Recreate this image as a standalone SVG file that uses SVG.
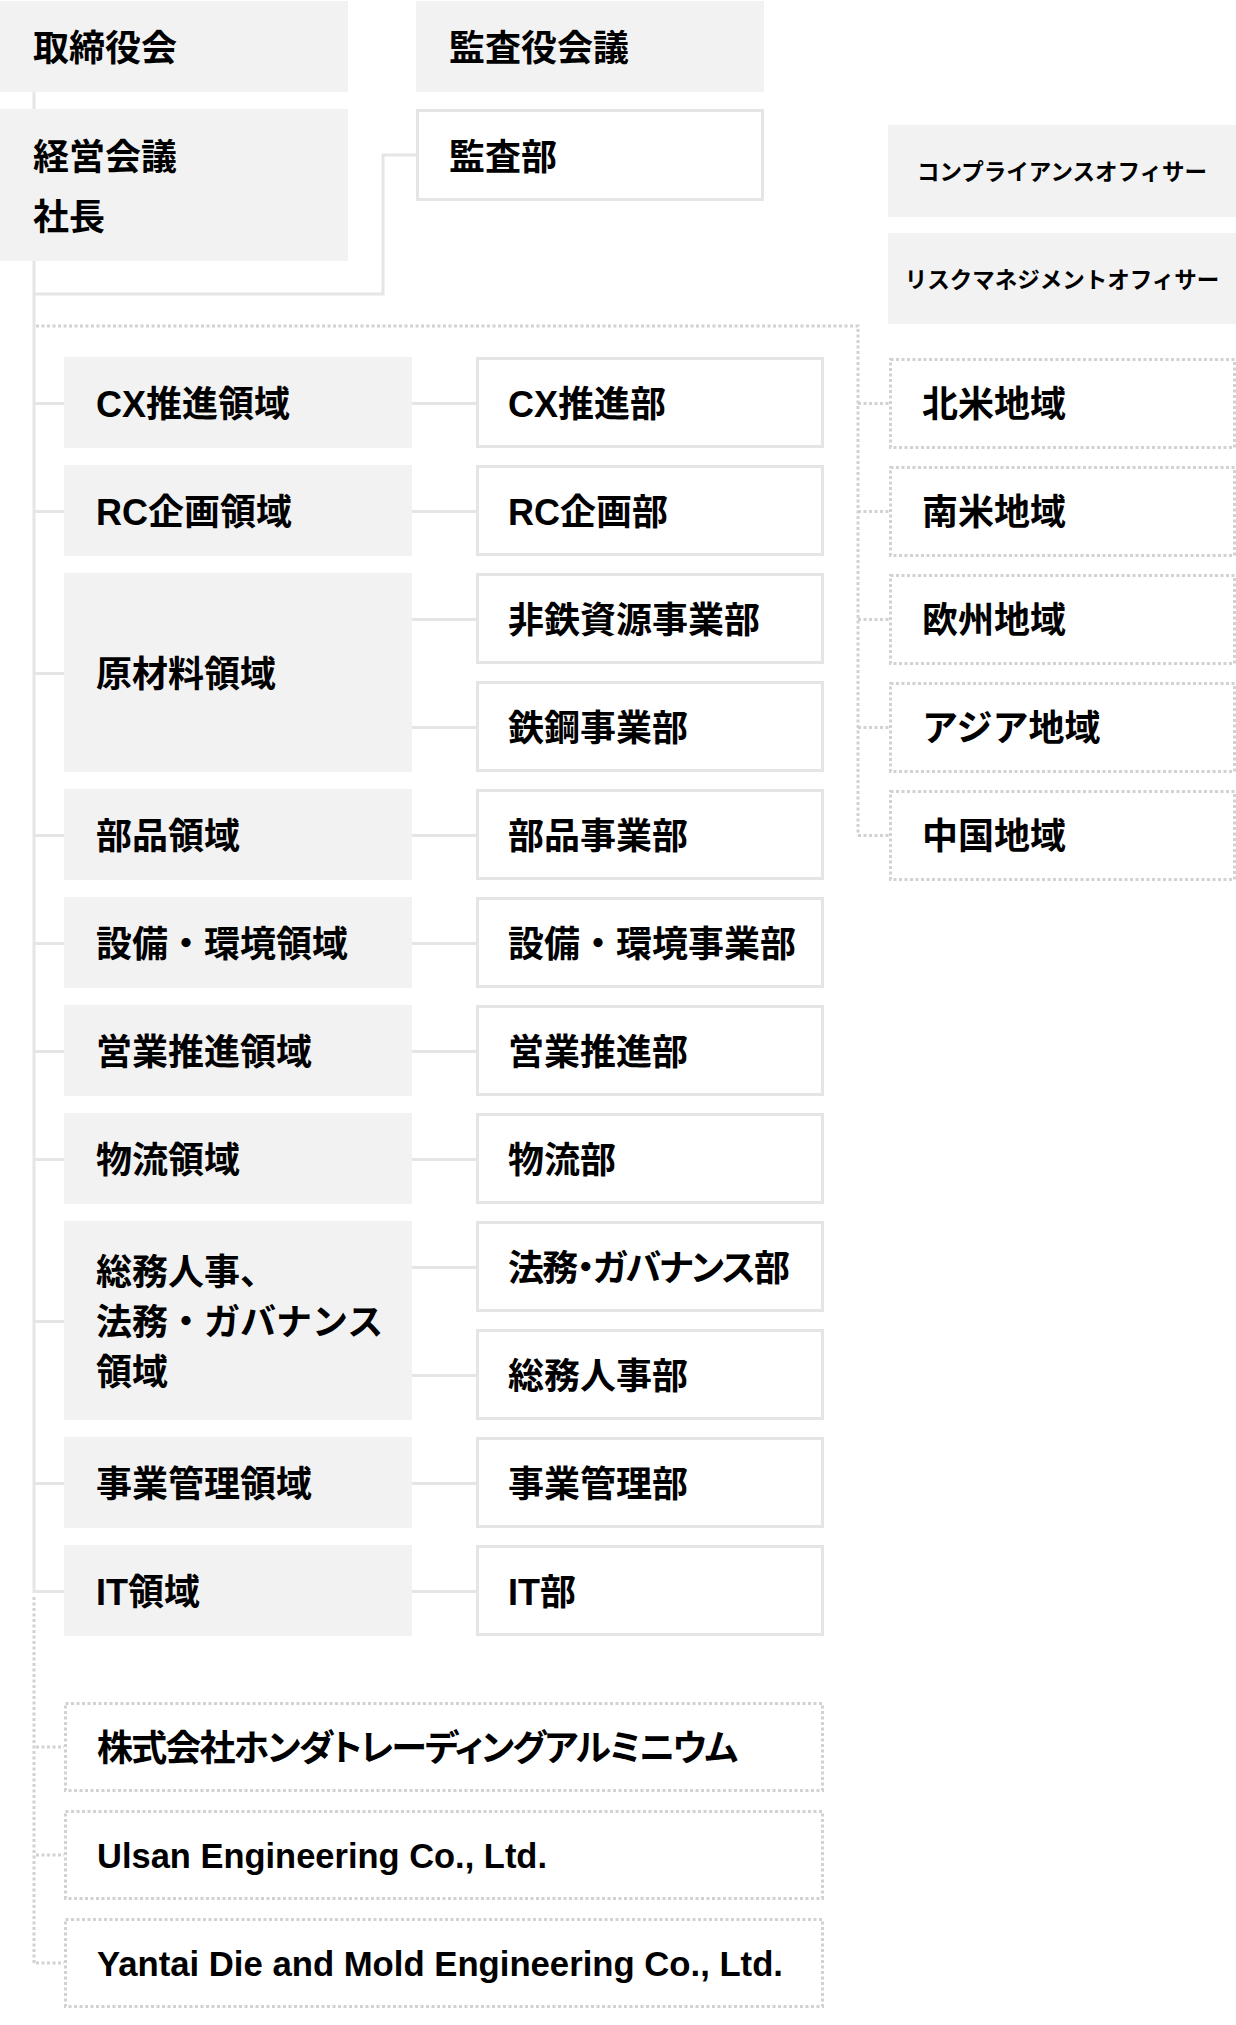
<svg xmlns="http://www.w3.org/2000/svg" width="1236" height="2025" viewBox="0 0 1236 2025">
<style>
.g{fill:#f2f2f2}
.w{fill:#fff;stroke:#e5e5e5;stroke-width:3}
.d{fill:#fff;stroke:#d2d2d2;stroke-width:3;stroke-dasharray:3 2.5}
.ln{fill:none;stroke:#e5e5e5;stroke-width:3}
.dl{fill:none;stroke:#d2d2d2;stroke-width:3;stroke-dasharray:3 2.5}
text{font-family:"Liberation Sans","Noto Sans CJK JP",sans-serif;font-weight:700;font-size:36px;fill:#000}
.s{font-size:22.5px;text-anchor:middle}
.p{font-feature-settings:"palt"}
.l{font-size:35px}
</style>
<rect width="1236" height="2025" fill="#fff"/>
<g id="connectors">
<path class="ln" d="M34 92V1593M34 294H383V155H416"/>
<path class="ln" d="M34 403.5H64M34 511.5H64M34 673.5H64M34 835.5H64M34 943.5H64M34 1051.5H64M34 1159.5H64M34 1321.5H64M34 1483.5H64M34 1591.5H64"/>
<path class="ln" d="M412 403.5H476M412 511.5H476M412 619.5H476M412 727.5H476M412 835.5H476M412 943.5H476M412 1051.5H476M412 1159.5H476M412 1267.5H476M412 1375.5H476M412 1483.5H476M412 1591.5H476"/>
<path class="dl" d="M36 326H858V835.5M858 403.5H889M858 511.5H889M858 619.5H889M858 727.5H889M858 835.5H889"/>
<path class="dl" d="M34 1597V1964M36 1747H64M36 1855H64M36 1963H64"/>
</g>
<g id="n-board"><rect class="g" x="0" y="1" width="348" height="91"/><text x="33" y="61">取締役会</text></g>
<g id="n-audit-board"><rect class="g" x="416" y="1" width="348" height="91"/><text x="449" y="61">監査役会議</text></g>
<g id="n-management"><rect class="g" x="0" y="109" width="348" height="152"/><text x="33" y="170">経営会議</text><text x="33" y="230">社長</text></g>
<g id="n-audit"><rect class="w" x="417.5" y="110.5" width="345" height="89"/><text x="449" y="170">監査部</text></g>
<g id="n-compliance"><rect class="g" x="888" y="125" width="348" height="92"/><text class="s" x="1062" y="180">コンプライアンスオフィサー</text></g>
<g id="n-risk"><rect class="g" x="888" y="233" width="348" height="91"/><text class="s" x="1062" y="288">リスクマネジメントオフィサー</text></g>

<g id="n-cx"><rect class="g" x="64" y="357" width="348" height="91"/><text x="96" y="416.5">CX推進領域</text></g>
<g id="n-rc"><rect class="g" x="64" y="465" width="348" height="91"/><text x="96" y="524.5">RC企画領域</text></g>
<g id="n-raw"><rect class="g" x="64" y="573" width="348" height="199"/><text x="96" y="686.5">原材料領域</text></g>
<g id="n-parts"><rect class="g" x="64" y="789" width="348" height="91"/><text x="96" y="848.5">部品領域</text></g>
<g id="n-equip"><rect class="g" x="64" y="897" width="348" height="91"/><text x="96" y="956.5">設備・環境領域</text></g>
<g id="n-sales"><rect class="g" x="64" y="1005" width="348" height="91"/><text x="96" y="1064.5">営業推進領域</text></g>
<g id="n-logi"><rect class="g" x="64" y="1113" width="348" height="91"/><text x="96" y="1172.5">物流領域</text></g>
<g id="n-ga"><rect class="g" x="64" y="1221" width="348" height="199"/><text x="96" y="1285">総務人事、</text><text x="96" y="1335">法務・ガバナンス</text><text x="96" y="1385">領域</text></g>
<g id="n-bm"><rect class="g" x="64" y="1437" width="348" height="91"/><text x="96" y="1496.5">事業管理領域</text></g>
<g id="n-it"><rect class="g" x="64" y="1545" width="348" height="91"/><text x="96" y="1604.5">IT領域</text></g>

<g id="d-cx"><rect class="w" x="477.5" y="358.5" width="345" height="88"/><text x="508" y="416.5">CX推進部</text></g>
<g id="d-rc"><rect class="w" x="477.5" y="466.5" width="345" height="88"/><text x="508" y="524.5">RC企画部</text></g>
<g id="d-nonferrous"><rect class="w" x="477.5" y="574.5" width="345" height="88"/><text x="508" y="632.5">非鉄資源事業部</text></g>
<g id="d-steel"><rect class="w" x="477.5" y="682.5" width="345" height="88"/><text x="508" y="740.5">鉄鋼事業部</text></g>
<g id="d-parts"><rect class="w" x="477.5" y="790.5" width="345" height="88"/><text x="508" y="848.5">部品事業部</text></g>
<g id="d-equip"><rect class="w" x="477.5" y="898.5" width="345" height="88"/><text x="508" y="956.5">設備・環境事業部</text></g>
<g id="d-sales"><rect class="w" x="477.5" y="1006.5" width="345" height="88"/><text x="508" y="1064.5">営業推進部</text></g>
<g id="d-logi"><rect class="w" x="477.5" y="1114.5" width="345" height="88"/><text x="508" y="1172.5">物流部</text></g>
<g id="d-legal"><rect class="w" x="477.5" y="1222.5" width="345" height="88"/><text class="p" x="508" y="1280.5" textLength="282" lengthAdjust="spacing">法務・ガバナンス部</text></g>
<g id="d-ga"><rect class="w" x="477.5" y="1330.5" width="345" height="88"/><text x="508" y="1388.5">総務人事部</text></g>
<g id="d-bm"><rect class="w" x="477.5" y="1438.5" width="345" height="88"/><text x="508" y="1496.5">事業管理部</text></g>
<g id="d-it"><rect class="w" x="477.5" y="1546.5" width="345" height="88"/><text x="508" y="1604.5">IT部</text></g>

<g id="r-na"><rect class="d" x="890.5" y="359.5" width="344" height="88"/><text x="922" y="416.5">北米地域</text></g>
<g id="r-sa"><rect class="d" x="890.5" y="467.5" width="344" height="88"/><text x="922" y="524.5">南米地域</text></g>
<g id="r-eu"><rect class="d" x="890.5" y="575.5" width="344" height="88"/><text x="922" y="632.5">欧州地域</text></g>
<g id="r-asia"><rect class="d" x="890.5" y="683.5" width="344" height="88"/><text x="922" y="740.5">アジア地域</text></g>
<g id="r-cn"><rect class="d" x="890.5" y="791.5" width="344" height="88"/><text x="922" y="848.5">中国地域</text></g>

<g id="s-honda"><rect class="d" x="65.5" y="1703.5" width="757" height="87"/><text class="p" x="97" y="1761" textLength="641" lengthAdjust="spacing">株式会社ホンダトレーディングアルミニウム</text></g>
<g id="s-ulsan"><rect class="d" x="65.5" y="1811.5" width="757" height="87"/><text class="l" x="97" y="1868" textLength="450" lengthAdjust="spacingAndGlyphs">Ulsan Engineering Co., Ltd.</text></g>
<g id="s-yantai"><rect class="d" x="65.5" y="1919.5" width="757" height="87"/><text class="l" x="97" y="1976" textLength="686" lengthAdjust="spacingAndGlyphs">Yantai Die and Mold Engineering Co., Ltd.</text></g>
</svg>
